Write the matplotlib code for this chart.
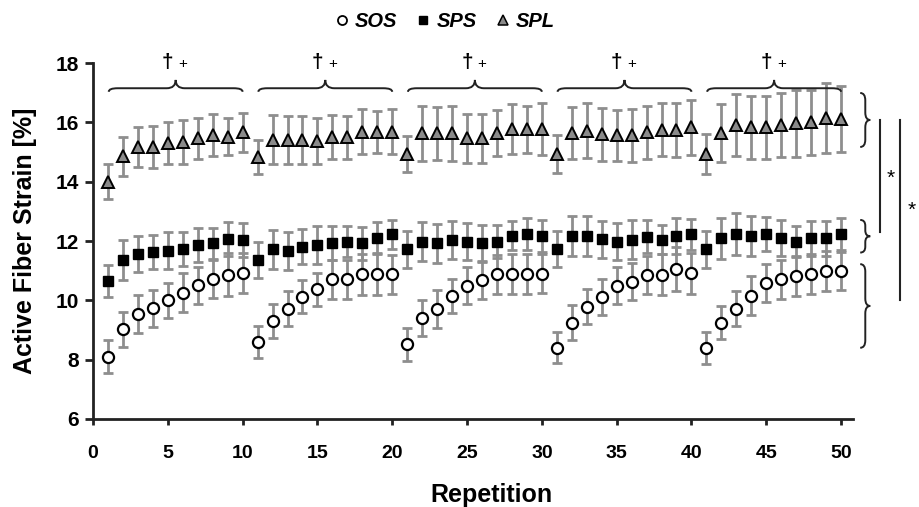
import matplotlib
matplotlib.use("Agg")
import matplotlib.pyplot as plt
from matplotlib.path import Path
from matplotlib.patches import PathPatch
from matplotlib.lines import Line2D
import numpy as np

plt.rcParams['font.family'] = ['Liberation Sans', 'DejaVu Sans']

reps = np.arange(1, 51)

sos = [8.10, 9.02, 9.54, 9.73, 10.01, 10.26, 10.50, 10.72, 10.86, 10.93,
       8.59, 9.30, 9.71, 10.12, 10.37, 10.71, 10.71, 10.88, 10.88, 10.88,
       8.52, 9.40, 9.71, 10.15, 10.49, 10.69, 10.88, 10.88, 10.90, 10.90,
       8.40, 9.25, 9.79, 10.12, 10.49, 10.63, 10.86, 10.86, 11.06, 10.91,
       8.40, 9.25, 9.71, 10.16, 10.58, 10.71, 10.83, 10.88, 10.99, 10.99]
sos_err = [0.55, 0.60, 0.63, 0.62, 0.59, 0.65, 0.62, 0.65, 0.72, 0.67,
           0.55, 0.56, 0.59, 0.56, 0.56, 0.66, 0.65, 0.69, 0.69, 0.66,
           0.55, 0.61, 0.63, 0.58, 0.62, 0.65, 0.66, 0.67, 0.67, 0.66,
           0.52, 0.59, 0.60, 0.60, 0.62, 0.62, 0.64, 0.69, 0.73, 0.70,
           0.53, 0.56, 0.59, 0.66, 0.65, 0.65, 0.67, 0.67, 0.67, 0.65]

sps = [10.65, 11.36, 11.55, 11.62, 11.67, 11.73, 11.87, 11.92, 12.06, 12.04,
       11.36, 11.72, 11.67, 11.81, 11.87, 11.92, 11.98, 11.92, 12.11, 12.23,
       11.72, 11.98, 11.92, 12.04, 11.98, 11.92, 11.98, 12.17, 12.23, 12.17,
       11.72, 12.17, 12.17, 12.06, 11.98, 12.04, 12.15, 12.04, 12.17, 12.23,
       11.72, 12.09, 12.23, 12.17, 12.23, 12.09, 11.98, 12.09, 12.09, 12.23]
sps_err = [0.53, 0.66, 0.61, 0.58, 0.62, 0.56, 0.58, 0.53, 0.57, 0.57,
           0.61, 0.65, 0.65, 0.60, 0.63, 0.57, 0.53, 0.55, 0.53, 0.49,
           0.62, 0.66, 0.67, 0.63, 0.62, 0.63, 0.56, 0.49, 0.53, 0.55,
           0.61, 0.66, 0.66, 0.63, 0.63, 0.66, 0.56, 0.49, 0.62, 0.52,
           0.63, 0.69, 0.71, 0.67, 0.57, 0.61, 0.53, 0.58, 0.58, 0.55]

spl = [14.00, 14.85, 15.17, 15.17, 15.30, 15.35, 15.47, 15.58, 15.52, 15.67,
       14.82, 15.42, 15.42, 15.42, 15.37, 15.51, 15.50, 15.68, 15.68, 15.68,
       14.93, 15.63, 15.63, 15.63, 15.46, 15.46, 15.64, 15.78, 15.76, 15.78,
       14.93, 15.64, 15.72, 15.60, 15.56, 15.56, 15.67, 15.75, 15.75, 15.83,
       14.93, 15.64, 15.92, 15.83, 15.83, 15.92, 15.97, 16.00, 16.14, 16.12]
spl_err = [0.60, 0.67, 0.67, 0.70, 0.70, 0.74, 0.69, 0.71, 0.63, 0.66,
           0.57, 0.84, 0.81, 0.81, 0.77, 0.73, 0.73, 0.76, 0.71, 0.76,
           0.61, 0.92, 0.90, 0.92, 0.83, 0.83, 0.76, 0.84, 0.79, 0.88,
           0.64, 0.88, 0.92, 0.89, 0.85, 0.88, 0.89, 0.89, 0.91, 0.94,
           0.67, 0.97, 1.05, 1.06, 1.06, 1.08, 1.13, 1.10, 1.17, 1.12]

block_starts = [0, 10, 20, 30, 40]
sig_text = '\u2020'


def brace(ax, a0, a1, base, end_off, tip_off, r, vertical=False):
    """curly brace along a0..a1, tip pointing away from the ends"""
    am = (a0 + a1) / 2
    pts = [(a0, base - end_off), (a0, base), (a0 + r, base),
           (am - r, base), (am, base), (am, base + tip_off),
           (am, base), (am + r, base),
           (a1 - r, base), (a1, base), (a1, base - end_off)]
    codes = [Path.MOVETO, Path.CURVE3, Path.CURVE3,
             Path.LINETO, Path.CURVE3, Path.CURVE3,
             Path.CURVE3, Path.CURVE3,
             Path.LINETO, Path.CURVE3, Path.CURVE3]
    if vertical:
        pts = [(b, a) for a, b in pts]
    ax.add_patch(PathPatch(Path(pts, codes), fill=False, lw=1.4,
                           ec='#222222', clip_on=False))


fig = plt.figure(figsize=(9.2, 5.07), dpi=100)
ax = fig.add_axes([0.1011, 0.1736, 0.8261, 0.7021])

err_kw = dict(fmt='none', ecolor='#8e8e8e', elinewidth=2, capsize=3.5,
              capthick=2, zorder=1)
ax.errorbar(reps, sos, yerr=sos_err, **err_kw)
ax.errorbar(reps, sps, yerr=sps_err, **err_kw)
ax.errorbar(reps, spl, yerr=spl_err, **err_kw)

ax.plot(reps, sos, ls='none', marker='o', ms=8, mfc='white', mec='black',
        mew=1.6, zorder=3)
ax.plot(reps, sps, ls='none', marker='s', ms=7.5, mfc='black', mec='black',
        mew=1, zorder=3)
ax.plot(reps, spl, ls='none', marker='^', ms=9, mfc='#8a8a8a', mec='black',
        mew=1.4, zorder=3)

ax.set_xlim(0, 50.8)
ax.set_ylim(6, 18)
ax.set_xticks(range(0, 51, 5))
ax.set_yticks(range(6, 19, 2))
for s in ['top', 'right']:
    ax.spines[s].set_visible(False)
for s in ['left', 'bottom']:
    ax.spines[s].set_linewidth(2)
    ax.spines[s].set_color('#222222')
ax.tick_params(axis='y', length=6, width=2, pad=4, labelsize=15,
               color='#222222')
ax.tick_params(axis='x', length=4, width=2, pad=15, labelsize=14,
               color='#222222')
for lab in ax.get_xticklabels() + ax.get_yticklabels():
    lab.set_fontweight('bold')

ax.set_ylabel('Active Fiber Strain [%]', fontsize=18, fontweight='bold')
ax.yaxis.set_label_coords(-0.074, 0.5)
ax.set_xlabel('Repetition', fontsize=18, fontweight='bold')
ax.xaxis.set_label_coords(0.524, -0.18)

# brackets over each block of ten repetitions
for b in block_starts:
    brace(ax, b + 1.05, b + 10.0, 17.15, 0.12, 0.28, 0.6)
    xm = b + 5.5
    ax.text(xm - 0.5, 18.03, sig_text, ha='center', va='center',
            fontsize=15, fontweight='bold', clip_on=False)
    ax.text(xm + 0.5, 17.97, '+', ha='center', va='center',
            fontsize=11, clip_on=False)

# braces and significance lines at the right
brace(ax, 15.17, 16.99, 51.62, 0.34, 0.33, 0.25, vertical=True)
brace(ax, 11.61, 12.71, 51.62, 0.34, 0.33, 0.2, vertical=True)
brace(ax, 8.40, 11.22, 51.62, 0.34, 0.33, 0.25, vertical=True)
ax.plot([52.6, 52.6], [16.08, 12.3], color='#222222', lw=1.5, clip_on=False)
ax.plot([53.96, 53.96], [16.08, 10.01], color='#222222', lw=1.5,
        clip_on=False)
ax.text(53.3, 14.1, '*', ha='center', va='center', fontsize=15,
        clip_on=False)
ax.text(54.7, 13.05, '*', ha='center', va='center', fontsize=15,
        clip_on=False)

handles = [
    Line2D([], [], ls='none', marker='o', ms=6.5, mfc='white', mec='black',
           mew=1.3),
    Line2D([], [], ls='none', marker='s', ms=6, mfc='black', mec='black'),
    Line2D([], [], ls='none', marker='^', ms=7, mfc='#8a8a8a', mec='black',
           mew=1.1),
]
fig.legend(handles, ['SOS', 'SPS', 'SPL'], loc='center',
           bbox_to_anchor=(0.484, 0.957), ncol=3, frameon=False,
           handlelength=0.6, handletextpad=0.35, columnspacing=1.0,
           prop=dict(size=14.5, weight='bold', style='italic'))

fig.savefig('out.png', dpi=100)
